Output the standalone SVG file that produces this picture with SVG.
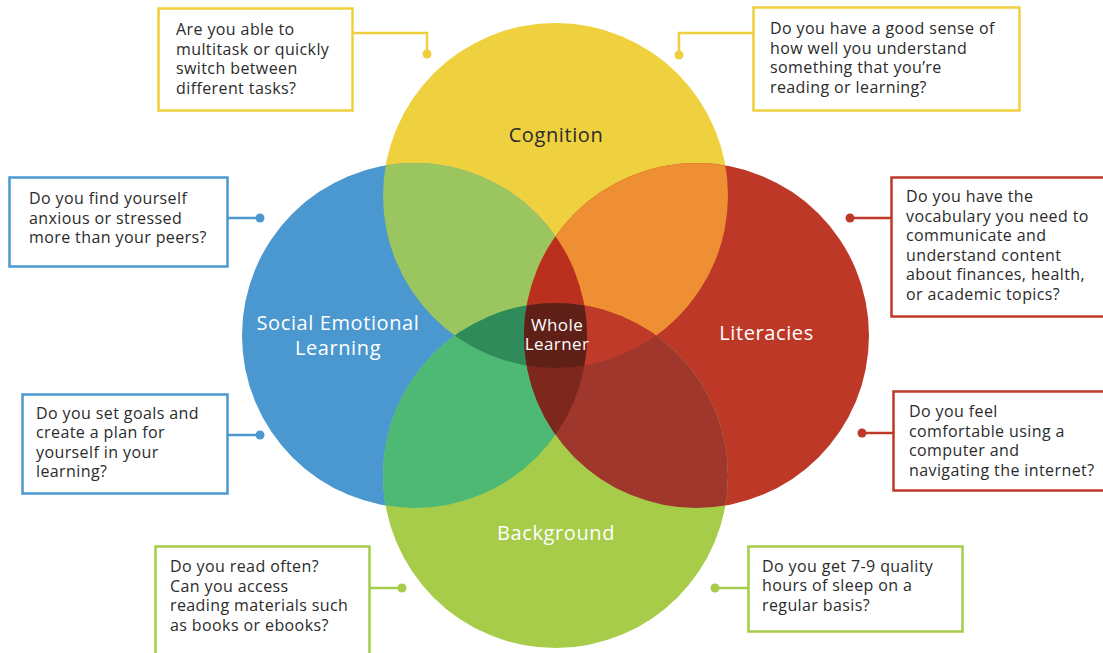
<svg xmlns="http://www.w3.org/2000/svg" width="1103" height="653" viewBox="0 0 1103 653">
  <style>
    .box { fill: #ffffff; stroke-width: 2.5; }
    .q { font-family: "Open Sans", Lato, sans-serif; font-size: 16px; letter-spacing: 0.4px; fill: #2b2b2b; }
    .lbl { font-family: "Open Sans", Lato, sans-serif; font-size: 20px; letter-spacing: 0.6px; fill: #ffffff; text-anchor: middle; }
    .lbl.dark { fill: #2b2b2b; }
    .mid { font-family: "Open Sans", Lato, sans-serif; font-size: 17px; letter-spacing: 0.4px; fill: #ffffff; text-anchor: middle; }
    .y { stroke: #eed03f; }
    .b { stroke: #4a98cf; }
    .r { stroke: #be3828; }
    .g { stroke: #a6cc4a; }
    .link { fill: none; stroke-width: 2.5; }
  </style>
  <defs>
    <clipPath id="cY"><circle cx="555.5" cy="195.5" r="172.5"/></clipPath>
    <clipPath id="cB"><circle cx="414.5" cy="335.5" r="172.5"/></clipPath>
    <clipPath id="cR"><circle cx="696.5" cy="335.5" r="172.5"/></clipPath>
    <clipPath id="cG"><circle cx="555.5" cy="475.5" r="172.5"/></clipPath>
  </defs>
  <rect width="1103" height="653" fill="#ffffff"/>

  <!-- four overlapping circles -->
  <g id="venn">
    <circle id="cognition" cx="555.5" cy="195.5" r="172.5" fill="#efd13f"/>
    <circle id="social-emotional" cx="414.5" cy="335.5" r="172.5" fill="#4a98cf"/>
    <circle id="literacies" cx="696.5" cy="335.5" r="172.5" fill="#be3828"/>
    <circle id="background" cx="555.5" cy="475.5" r="172.5" fill="#a6cc4a"/>

    <!-- pairwise overlaps -->
    <g clip-path="url(#cY)"><circle cx="414.5" cy="335.5" r="172.5" fill="#9bc55e"/></g>
    <g clip-path="url(#cY)"><circle cx="696.5" cy="335.5" r="172.5" fill="#ee8f33"/></g>
    <g clip-path="url(#cG)"><circle cx="414.5" cy="335.5" r="172.5" fill="#4db974"/></g>
    <g clip-path="url(#cG)"><circle cx="696.5" cy="335.5" r="172.5" fill="#a0372c"/></g>

    <!-- triple overlaps -->
    <g clip-path="url(#cY)"><g clip-path="url(#cB)"><circle cx="696.5" cy="335.5" r="172.5" fill="#b9301e"/></g></g>
    <g clip-path="url(#cY)"><g clip-path="url(#cB)"><circle cx="555.5" cy="475.5" r="172.5" fill="#2f8c5a"/></g></g>
    <g clip-path="url(#cY)"><g clip-path="url(#cR)"><circle cx="555.5" cy="475.5" r="172.5" fill="#bf3a29"/></g></g>
    <g clip-path="url(#cB)"><g clip-path="url(#cR)"><circle cx="555.5" cy="475.5" r="172.5" fill="#7e281d"/></g></g>

    <!-- centre -->
    <g clip-path="url(#cY)"><g clip-path="url(#cB)"><g clip-path="url(#cR)"><circle cx="555.5" cy="475.5" r="172.5" fill="#5f2018"/></g></g></g>

    <text class="lbl dark" x="556" y="142">Cognition</text>
    <text class="lbl" x="338" y="330">Social Emotional</text>
    <text class="lbl" x="338" y="355">Learning</text>
    <text class="lbl" x="766.5" y="340">Literacies</text>
    <text class="lbl" x="556" y="540">Background</text>
    <text class="mid" x="557" y="331">Whole</text>
    <text class="mid" x="557" y="350">Learner</text>
  </g>

  <!-- leader lines from questions to circles -->
  <g id="connectors">
    <polyline class="link y" points="353,33 427,33 427,54"/>
    <circle cx="427" cy="54" r="4.5" fill="#eed03f"/>
    <polyline class="link y" points="753,33 679,33 679,55"/>
    <circle cx="679" cy="55" r="4.5" fill="#eed03f"/>
    <line class="link b" x1="228" y1="218" x2="260" y2="218"/>
    <circle cx="260" cy="218" r="4.5" fill="#4a98cf"/>
    <line class="link b" x1="228" y1="435" x2="260" y2="435"/>
    <circle cx="260" cy="435" r="4.5" fill="#4a98cf"/>
    <line class="link r" x1="850" y1="218" x2="892" y2="218"/>
    <circle cx="850" cy="218" r="4.5" fill="#be3828"/>
    <line class="link r" x1="862" y1="433" x2="893" y2="433"/>
    <circle cx="862" cy="433" r="4.5" fill="#be3828"/>
    <line class="link g" x1="369" y1="588" x2="402" y2="588"/>
    <circle cx="402" cy="588" r="4.5" fill="#a6cc4a"/>
    <line class="link g" x1="715" y1="588" x2="748" y2="588"/>
    <circle cx="715" cy="588" r="4.5" fill="#a6cc4a"/>
  </g>

  <g id="q-multitask">
    <rect class="box y" x="158.5" y="8.5" width="194" height="102"/>
    <text class="q" x="176" y="35">Are you able to</text>
    <text class="q" x="176" y="54.5">multitask or quickly</text>
    <text class="q" x="176" y="74">switch between</text>
    <text class="q" x="176" y="93.5">different tasks?</text>
  </g>

  <g id="q-understand">
    <rect class="box y" x="753.5" y="7.5" width="266" height="103"/>
    <text class="q" x="770" y="34">Do you have a good sense of</text>
    <text class="q" x="770" y="53.5">how well you understand</text>
    <text class="q" x="770" y="73">something that you’re</text>
    <text class="q" x="770" y="92.5">reading or learning?</text>
  </g>

  <g id="q-anxious">
    <rect class="box b" x="9.5" y="177.5" width="218" height="89"/>
    <text class="q" x="29" y="204">Do you find yourself</text>
    <text class="q" x="29" y="223.5">anxious or stressed</text>
    <text class="q" x="29" y="243">more than your peers?</text>
  </g>

  <g id="q-goals">
    <rect class="box b" x="22.5" y="394.5" width="205" height="99"/>
    <text class="q" x="36" y="418.5">Do you set goals and</text>
    <text class="q" x="36" y="438">create a plan for</text>
    <text class="q" x="36" y="457.5">yourself in your</text>
    <text class="q" x="36" y="477">learning?</text>
  </g>

  <g id="q-vocabulary">
    <rect class="box r" x="891.5" y="177.5" width="215" height="139"/>
    <text class="q" x="906" y="202">Do you have the</text>
    <text class="q" x="906" y="221.5">vocabulary you need to</text>
    <text class="q" x="906" y="241">communicate and</text>
    <text class="q" x="906" y="260.5">understand content</text>
    <text class="q" x="906" y="280">about finances, health,</text>
    <text class="q" x="906" y="299.5">or academic topics?</text>
  </g>

  <g id="q-computer">
    <rect class="box r" x="893.5" y="391.5" width="213" height="99"/>
    <text class="q" x="909" y="417">Do you feel</text>
    <text class="q" x="909" y="436.5">comfortable using a</text>
    <text class="q" x="909" y="456">computer and</text>
    <text class="q" x="909" y="475.5">navigating the internet?</text>
  </g>

  <g id="q-reading">
    <rect class="box g" x="155.5" y="546.5" width="214" height="112"/>
    <text class="q" x="170" y="572">Do you read often?</text>
    <text class="q" x="170" y="591.5">Can you access</text>
    <text class="q" x="170" y="611">reading materials such</text>
    <text class="q" x="170" y="630.5">as books or ebooks?</text>
  </g>

  <g id="q-sleep">
    <rect class="box g" x="748.5" y="546.5" width="214" height="85"/>
    <text class="q" x="762" y="571.5">Do you get 7-9 quality</text>
    <text class="q" x="762" y="591">hours of sleep on a</text>
    <text class="q" x="762" y="610.5">regular basis?</text>
  </g>
</svg>
